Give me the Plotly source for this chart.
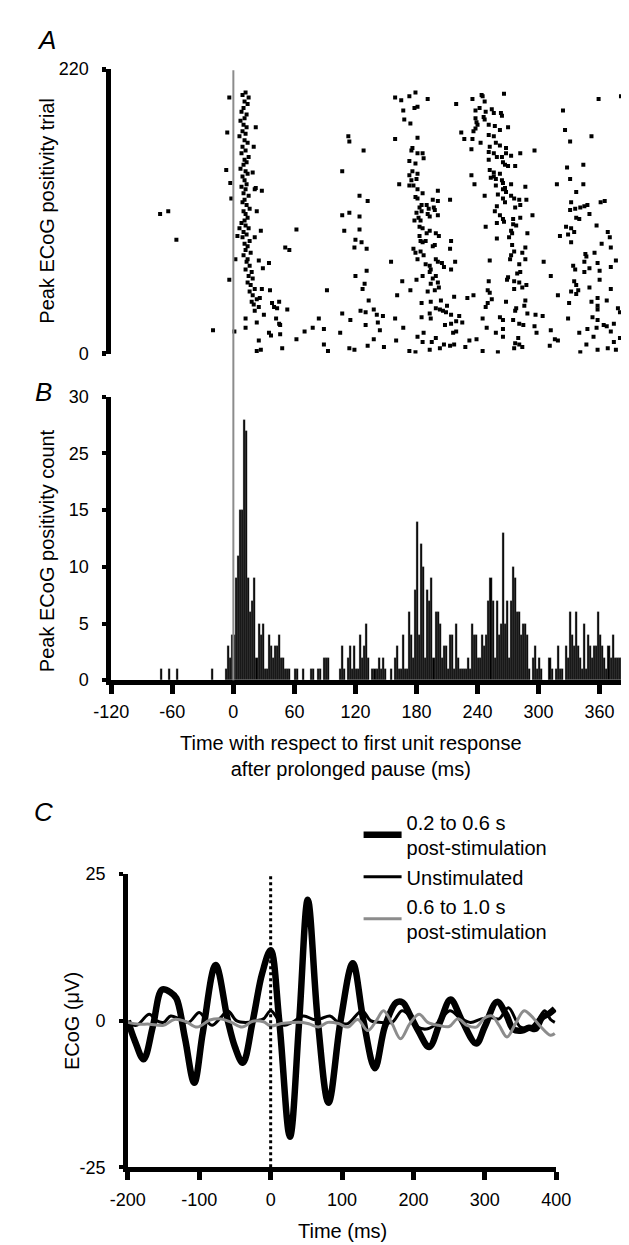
import plotly.graph_objects as go

# ---- panel A: raster of peak ECoG positivity (time ms, trial) ----
spikes_pre = [(-72, 108), (-64, 110), (-56, 88), (-20, 18), (1, 17)]

spikes_burst0 = [
    (-4, 198), (-6, 171), (-7, 142), (-3, 132), (-2, 120), (2, 73), (-4, 57), (4, 91), (6, 97),
    (12, 202), (9, 200), (15, 198), (11, 195), (14, 193), (10, 190), (8, 187), (13, 185), (11, 182),
    (7, 180), (10, 177), (13, 175), (9, 172), (12, 170), (6, 168), (11, 165), (14, 163), (9, 160),
    (12, 157), (8, 155), (15, 152), (11, 150), (13, 148), (10, 146), (7, 143), (12, 141), (14, 139),
    (9, 137), (11, 134), (13, 131), (8, 129), (12, 127), (10, 124), (15, 122), (11, 119), (9, 117),
    (13, 115), (16, 112), (10, 110), (12, 108), (14, 105), (11, 103), (8, 101), (12, 99), (15, 97),
    (10, 94), (13, 92), (9, 90), (16, 87), (11, 85), (14, 83), (12, 80), (17, 78), (10, 76), (14, 73),
    (13, 71), (16, 68), (12, 65), (18, 63), (15, 60), (19, 58), (14, 55), (17, 53), (21, 50), (16, 48),
    (19, 45), (23, 42), (18, 40), (20, 38), (25, 36), (22, 175), (20, 160), (19, 140), (22, 128),
    (23, 110), (21, 90), (25, 72), (21, 127), (28, 126), (27, 95),
]

spikes_early = [
    (12, 27), (12, 20), (23, 24), (25, 10), (23, 2), (27, 3), (35, 70), (29, 66), (28, 50), (36, 49),
    (26, 43), (21, 33), (30, 30), (38, 39), (45, 40), (40, 36), (43, 35), (53, 34), (42, 27), (46, 22),
    (45, 23), (35, 16), (37, 14), (46, 15), (48, 4), (51, 82), (55, 80), (62, 96), (62, 11), (70, 17),
]

spikes_mid = [
    (78, 20), (84, 27), (89, 19), (89, 7), (93, 2), (92, 49), (105, 16), (107, 31), (114, 4), (119, 3),
    (115, 26), (125, 33), (130, 32), (130, 22), (132, 6), (133, 41), (138, 34), (141, 30), (142, 24),
    (144, 18), (147, 29), (148, 5), (138, 11), (127, 50), (129, 54), (131, 64), (120, 60), (131, 81),
    (126, 86), (119, 82), (120, 88), (109, 95), (124, 96), (107, 107), (114, 109), (124, 106),
    (124, 122), (132, 118), (107, 141), (128, 157), (113, 168), (114, 164), (155, 71), (159, 27),
    (160, 10), (167, 20), (166, 56), (161, 45), (163, 131), (159, 166), (159, 198), (165, 196),
    (167, 188), (168, 181), (173, 199), (179, 202), (178, 190), (181, 191), (174, 178), (191, 197),
    (181, 167),
]

spikes_burst1 = [
    (175, 157), (176, 159), (173, 149), (181, 155), (186, 155), (187, 151), (179, 147), (176, 141),
    (173, 138), (181, 139), (175, 134), (180, 135), (177, 130), (173, 130), (181, 127), (186, 124),
    (179, 121), (181, 120), (185, 115), (183, 113), (190, 115), (196, 119), (201, 118), (201, 126),
    (197, 113), (198, 111), (192, 112), (191, 108), (193, 106), (180, 109), (185, 110), (201, 107),
    (178, 103), (182, 105), (184, 103), (183, 98), (186, 97), (193, 95), (199, 93), (202, 91),
    (190, 93), (183, 91), (184, 87), (186, 86), (189, 87), (198, 84), (196, 83), (177, 81), (179, 78),
    (184, 79), (187, 76), (181, 73), (199, 73), (201, 71), (205, 70), (207, 67), (189, 69), (193, 68),
    (194, 65), (193, 63), (199, 60), (196, 58), (186, 60), (180, 57), (194, 54), (201, 55), (202, 51),
    (198, 49), (191, 48), (174, 49), (213, 119), (214, 87), (213, 81), (214, 65), (218, 71), (185, 39),
    (194, 40), (204, 41), (210, 37), (199, 35), (203, 34), (206, 33), (193, 31), (185, 28), (194, 27),
    (209, 32), (214, 30), (208, 22), (214, 23), (219, 25), (222, 29), (225, 24), (187, 16), (181, 13),
    (186, 9), (199, 12), (203, 4), (195, 9), (207, 7), (213, 6), (217, 7), (173, 2), (179, 1), (193, 3),
    (217, 44), (216, 16), (219, 17),
]

spikes_burst2 = [
    (219, 193), (235, 197), (244, 200), (245, 199), (247, 195), (242, 190), (238, 188), (248, 187),
    (254, 189), (256, 186), (263, 186), (264, 184), (266, 201), (238, 182), (246, 183), (247, 181),
    (239, 179), (240, 177), (251, 177), (257, 176), (262, 173), (270, 175), (224, 171), (227, 166),
    (236, 172), (235, 166), (238, 174), (243, 163), (251, 169), (256, 168), (258, 163), (262, 161),
    (268, 159), (252, 160), (251, 156), (256, 155), (259, 152), (264, 152), (265, 148), (267, 146),
    (270, 145), (273, 153), (268, 155), (282, 155), (296, 157), (277, 145), (234, 158), (251, 150),
    (252, 142), (256, 140), (256, 137), (253, 136), (258, 135), (262, 139), (264, 134), (265, 132),
    (273, 131), (287, 129), (265, 127), (267, 128), (268, 125), (258, 130), (247, 122), (260, 123),
    (265, 120), (267, 117), (273, 122), (276, 120), (281, 119), (288, 119), (277, 113), (282, 115),
    (259, 114), (257, 110), (262, 107), (265, 104), (266, 102), (259, 101), (275, 104), (282, 105),
    (294, 107), (275, 100), (278, 99), (273, 95), (274, 93), (289, 93), (248, 98), (259, 89), (271, 90),
    (274, 84), (276, 79), (273, 76), (272, 73), (284, 78), (287, 82), (287, 73), (252, 72), (281, 69),
    (282, 63), (279, 62), (270, 59), (269, 57), (276, 56), (281, 55), (276, 50), (284, 51), (288, 53),
    (305, 71), (312, 60), (251, 56), (250, 49), (252, 47), (254, 42), (250, 39), (248, 36), (234, 138),
    (237, 131), (230, 43), (236, 45), (268, 40), (278, 35), (277, 33), (286, 37), (287, 41), (289, 31),
    (297, 30), (304, 29), (245, 27), (262, 28), (265, 26), (275, 26), (281, 23), (285, 22), (296, 21),
    (298, 16), (249, 20), (258, 16), (265, 13), (265, 19), (280, 12), (277, 8), (281, 7), (284, 5),
    (276, 4), (232, 10), (239, 11), (228, 5), (245, 2), (260, 1), (312, 18), (316, 11), (319, 10),
    (311, 6),
]

spikes_burst3 = [
    (324, 188), (326, 173), (331, 164), (352, 168), (359, 197), (381, 199), (328, 144), (344, 146),
    (331, 135), (344, 131), (318, 131), (337, 125), (332, 117), (331, 111), (336, 112), (341, 113),
    (345, 114), (348, 115), (350, 108), (361, 117), (365, 118), (337, 105), (340, 104), (327, 98),
    (332, 97), (335, 94), (321, 91), (329, 92), (332, 86), (357, 99), (368, 94), (370, 90), (362, 85),
    (371, 82), (346, 77), (347, 75), (355, 78), (345, 71), (350, 66), (358, 70), (334, 68), (336, 65),
    (345, 63), (360, 64), (376, 72), (371, 67), (335, 56), (337, 53), (339, 49), (332, 48), (337, 46),
    (360, 57), (350, 51), (371, 50), (319, 45), (330, 39), (352, 40), (358, 43), (367, 41), (358, 37),
    (358, 34), (378, 35), (380, 32), (329, 27), (353, 28), (358, 26), (364, 22), (367, 21), (374, 23),
    (340, 16), (348, 19), (357, 20), (354, 13), (371, 17), (380, 12), (383, 8), (347, 7), (358, 3),
    (368, 4), (376, 3), (341, 1), (374, 9),
]

# ---- panel B: histogram, 2 ms bins (left edge ms, count) ----
hist_bin_ms = [
    -72, -64, -56, -22, -8, -6, -4, -2, 0, 2, 4, 6, 8, 10, 12, 14, 16, 18, 20, 22, 24, 26, 28, 30, 32,
    34, 36, 38, 40, 42, 44, 46, 48, 50, 52, 54, 60, 62, 68, 76, 78, 82, 84, 88, 90, 92, 104, 106, 108,
    112, 114, 116, 118, 120, 122, 124, 126, 128, 130, 132, 136, 138, 140, 142, 144, 146, 148, 154, 158,
    160, 162, 164, 166, 168, 170, 172, 174, 176, 178, 180, 182, 184, 186, 188, 190, 192, 194, 196, 198,
    200, 202, 204, 206, 208, 210, 212, 214, 216, 218, 220, 222, 224, 226, 228, 230, 232, 234, 236, 238,
    240, 242, 244, 246, 248, 250, 252, 254, 256, 258, 260, 262, 264, 266, 268, 270, 272, 274, 276, 278,
    280, 282, 284, 286, 288, 290, 294, 296, 298, 300, 302, 310, 312, 316, 318, 320, 322, 326, 328, 330,
    332, 334, 336, 338, 340, 342, 344, 346, 348, 350, 352, 354, 356, 358, 360, 362, 364, 366, 368, 370,
    372, 374, 376, 378, 380,
]
hist_count = [
    1, 1, 1, 1, 1, 3, 2, 4, 4, 9, 11, 15, 15, 23, 22, 9, 6, 7, 9, 2, 5, 4, 5, 1, 1,
    4, 3, 2, 3, 3, 4, 2, 2, 1, 1, 1, 1, 1, 1, 1, 1, 1, 1, 2, 2, 2, 1, 3, 1,
    2, 3, 1, 3, 1, 1, 4, 2, 3, 5, 2, 1, 1, 1, 2, 1, 2, 1, 1, 2,
    3, 1, 1, 4, 1, 1, 6, 4, 2, 8, 14, 4, 12, 10, 2, 8, 7, 9, 2, 6,
    6, 5, 2, 3, 3, 1, 4, 4, 1, 5, 2, 1, 1, 1, 1, 2, 1, 5, 4, 4,
    2, 2, 4, 3, 4, 7, 9, 7, 2, 7, 4, 5, 13, 5, 7, 2, 7, 10, 9, 6,
    6, 4, 5, 5, 4, 1, 2, 3, 1, 2, 1, 2, 1, 1, 3, 1, 1, 3, 2, 6,
    4, 3, 6, 3, 2, 1, 5, 1, 4, 3, 2, 3, 3, 6, 4, 3, 2, 1, 3, 2,
    4, 2, 2, 2, 2,
]
hist_tickvals = [0, 5, 10, 15, 20, 25]
hist_ticktext = ["0", "5", "10", "15", "25", "30"]
time_ticks_ab = [-120, -60, 0, 60, 120, 180, 240, 300, 360]
time_ticks_c = [-200, -100, 0, 100, 200, 300, 400]
ecog_ticks = [-25, 0, 25]

# ---- panel C: ECoG averages (ms, uV) ----
post_early_ms = [-200, -190, -178, -165, -152, -140, -132, -120, -107, -95, -77, -60, -50, -39, -25,
                 -12, 0, 12, 27, 40, 52, 66, 81, 98, 115, 130, 146, 160, 176, 185, 195, 208, 222,
                 238, 252, 268, 288, 300, 317, 330, 340, 352, 362, 371, 380, 390, 398]
post_early_uv = [0, -3.5, -6.6, -1, 5.3, 4.8, 3.8, -3, -10.6, -2, 9.5, 0, -4.5, -7.2, 0,
                 8, 12, 0, -19.8, 0, 20.6, 0, -14, 0, 9.8, 0, -8.1, -1, 3.1, 3.1, 1, -2, -4.5,
                 0, 3.6, 0, -3.9, -1, 3.2, 1, -1.5, -1.7, -1.2, -1.4, 0.5, 1.2, 2]

unstim_ms = [-200, -188, -170, -160, -150, -140, -128, -115, -100, -90, -82, -70, -60, -48, -35,
             -20, -10, 0, 10, 19, 30, 46, 60, 70, 83, 95, 108, 128, 140, 155, 170, 184, 195, 206,
             220, 235, 251, 265, 280, 295, 310, 320, 333, 350, 365, 375, 384, 392, 398]
unstim_uv = [-0.3, -0.8, 1.1, 0, -0.3, 0.8, 0.3, -0.3, 1.4, 0, -0.8, 0.5, 1.7, 0, -0.3,
             0, 0.3, 1.7, 0.3, -0.8, -0.3, 0.8, 0.2, 0.3, 0.8, -0.3, -0.5, 1.7, 0, -0.3, -0.3, 1.7,
             0.8, -1.1, -1.4, -0.3, 1.7, 0.5, -0.3, 0.3, 0.5, 0.3, 2.2, -1.1, -1.1, 0.3, 1.7, 0.2, -0.3]

post_late_ms = [-200, -185, -170, -150, -135, -120, -103, -85, -70, -55, -40, -25, -10, 0, 15, 30,
                45, 55, 67, 80, 95, 108, 122, 136, 148, 158, 170, 182, 195, 208, 220, 235, 250, 262,
                275, 288, 300, 310, 320, 331, 343, 355, 365, 378, 392, 398]
post_late_uv = [-0.3, -0.6, -0.6, -0.8, 0.2, -0.1, -1.1, 0.1, 0.3, -0.3, -1.1, -0.1, -0.2, -0.9,
                -0.5, -0.3, -0.3, -0.6, -1.1, -0.3, -0.5, -1.1, 0.2, -1.7, 0, 1.7, -0.5, -3.1, -0.5,
                1.1, -0.3, -0.8, -1, 0.3, -0.8, -1.1, 0.5, 0.8, -0.8, -2.8, -0.5, 1.7, 0.8, -1, -2.5,
                -2.2]

W, H = 629, 1245
FONT = "Liberation Sans, Arial, Helvetica, sans-serif"


def px_x(p):
    return p / W


def px_y(p):
    return 1 - p / H


def hyphen_labels(vals):
    # the figure uses a plain hyphen for negative numbers
    return [str(v) for v in vals]


raster = spikes_pre + spikes_burst0 + spikes_early + spikes_mid + spikes_burst1 + spikes_burst2 + spikes_burst3

fig = go.Figure()
fig.add_trace(go.Scatter(
    x=[p[0] for p in raster], y=[p[1] for p in raster], mode="markers",
    marker=dict(symbol="square", size=4, color="black", line=dict(width=0)),
    xaxis="x", yaxis="y", showlegend=False, hoverinfo="skip"))

fig.add_trace(go.Bar(
    x=[b + 1 for b in hist_bin_ms], y=hist_count, width=2,
    marker=dict(color="black", line=dict(color="#777", width=0.3)),
    xaxis="x2", yaxis="y2", showlegend=False))

fig.add_trace(go.Scatter(
    x=post_early_ms, y=post_early_uv, mode="lines", line=dict(color="black", width=6.5, shape="spline"),
    name="0.2 to 0.6 s<br>post-stimulation", xaxis="x3", yaxis="y3"))
fig.add_trace(go.Scatter(
    x=unstim_ms, y=unstim_uv, mode="lines", line=dict(color="black", width=3, shape="spline"),
    name="Unstimulated", xaxis="x3", yaxis="y3"))
fig.add_trace(go.Scatter(
    x=post_late_ms, y=post_late_uv, mode="lines", line=dict(color="#8c8c8c", width=3, shape="spline"),
    name="0.6 to 1.0 s<br>post-stimulation", xaxis="x3", yaxis="y3"))

axis_common = dict(showgrid=False, zeroline=False, showline=True, linecolor="black",
                   ticks="outside", tickcolor="black", tickfont=dict(size=18, color="black"))

fig.update_layout(
    width=W, height=H, margin=dict(l=0, r=0, t=0, b=0),
    paper_bgcolor="white", plot_bgcolor="white",
    font=dict(family=FONT, size=18, color="black"),
    bargap=0,
    xaxis=dict(domain=[px_x(90), 1], range=[-120, 382], visible=False, anchor="y"),
    yaxis=dict(domain=[px_y(341), px_y(52)], range=[0, 220], tickvals=[0, 220], anchor="x",
               linewidth=5, ticklen=4, tickwidth=5, ticklabelstandoff=10, **axis_common),
    xaxis2=dict(domain=[px_x(90), 1], range=[-120, 382], tickvals=time_ticks_ab,
                ticktext=hyphen_labels(time_ticks_ab),
                anchor="y2", linewidth=5, ticklen=9, tickwidth=4.5, ticklabelstandoff=2, **axis_common),
    yaxis2=dict(domain=[px_y(673), px_y(385)], range=[0, 25], tickvals=hist_tickvals,
                ticktext=hist_ticktext, anchor="x2", linewidth=5, ticklen=4, tickwidth=4,
                ticklabelstandoff=10, **axis_common),
    xaxis3=dict(domain=[px_x(107.5), px_x(559.6)], range=[-200, 400], tickvals=time_ticks_c,
                ticktext=hyphen_labels(time_ticks_c),
                anchor="y3", linewidth=4.5, ticklen=8, tickwidth=4.5, ticklabelstandoff=4, **axis_common),
    yaxis3=dict(domain=[px_y(1168), px_y(870)], range=[-25, 25], tickvals=ecog_ticks,
                ticktext=hyphen_labels(ecog_ticks), anchor="x3",
                linewidth=4.5, ticklen=4, tickwidth=4, ticklabelstandoff=10, **axis_common),
    legend=dict(x=px_x(351), y=px_y(797), xanchor="left", yanchor="top", font=dict(size=20),
                bgcolor="rgba(0,0,0,0)", itemwidth=38, tracegroupgap=0),
)

# grey reference line at the first unit response, spanning A and B
fig.add_shape(type="line", xref="x2", yref="paper", x0=0, x1=0, y0=px_y(673), y1=px_y(53),
              line=dict(color="#8c8c8c", width=2))
# dotted zero line in C
fig.add_shape(type="line", xref="x3", yref="y3", x0=0, x1=0, y0=-25, y1=25,
              line=dict(color="black", width=3, dash="dot"))

notes = [
    ("<i>A</i>", 22, 22, 0, 26),
    ("<i>B</i>", 18, 380, 0, 26),
    ("<i>C</i>", 18, 807, 0, 26),
    ("Peak ECoG positivity trial", 22, 196, -90, 20),
    ("Peak ECoG positivity count", 22, 541, -90, 20),
    ("Time with respect to first unit response<br>after prolonged pause (ms)", 343, 750, 0, 20),
    ("ECoG (μV)", 48, 1019, -90, 20),
    ("Time (ms)", 334, 1233, 0, 20),
]
for text, x, y, ang, size in notes:
    fig.add_annotation(text=text, x=px_x(x), y=px_y(y), xref="paper", yref="paper",
                       xanchor="center", yanchor="middle", textangle=ang, showarrow=False,
                       font=dict(size=size, color="black", family=FONT))

fig.write_html("out.html")
